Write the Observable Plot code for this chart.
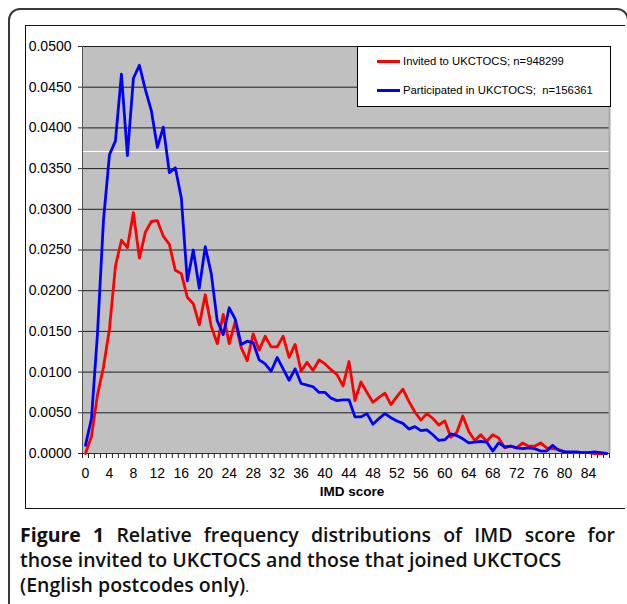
<!DOCTYPE html>
<html>
<head>
<meta charset="utf-8">
<script src="https://cdn.jsdelivr.net/npm/d3@7"></script>
<script src="https://cdn.jsdelivr.net/npm/@observablehq/plot@0.6"></script>
<style>
  html, body { margin: 0; padding: 0; background: #fff; }
  body { width: 627px; height: 604px; overflow: hidden; position: relative; }
  #outer { position: absolute; left: 8px; top: 8px; width: 621px; height: 640px;
           border: 2px solid #3a3a3a; border-radius: 12px; box-sizing: border-box; }
  #inner { position: absolute; left: 25px; top: 25px; width: 600px; height: 484px;
           border: 1.5px solid #111; border-right: none; box-sizing: border-box; }
  #chart { position: absolute; left: 0; top: 0; }
  #legend { position: absolute; left: 357px; top: 46px; width: 254px; height: 61px;
            border: 1px solid #000; background: #fff; box-sizing: border-box;
            font-family: "Liberation Sans", Arial, sans-serif; font-size: 11.3px; color: #000; }
  .lg { position: absolute; left: 19px; height: 0; width: 23px; border-top: 3px solid; }
  .lt { position: absolute; left: 45px; line-height: 14px; white-space: pre; }
  #caption { position: absolute; left: 20px; top: 522px; width: 640px;
             font-family: "Open Sans", "Noto Sans", sans-serif; font-size: 19.5px;
             line-height: 25px; color: #111; white-space: nowrap; }
  #caption .l1 { display: inline-block; }
  #caption b { font-weight: 700; }
  #caption .t { font-weight: 600; }
  #caption .n { font-weight: 400; font-size: 14px; }
</style>
</head>
<body>
<div id="outer"></div>
<div id="inner"></div>
<div id="chart"></div>
<div id="legend"></div>
<div id="caption">
  <div><span class="l1" id="line1"><b>Figure 1</b> <span class="t">Relative frequency distributions of IMD score for</span></span></div>
  <div><span class="t">those invited to UKCTOCS and those that joined UKCTOCS</span></div>
  <div><span class="t">(English postcodes only)</span><span class="n">.</span></div>
</div>
<script>
// IMD score categories
const imdScores = [0,1,2,3,4,5,6,7,8,9,10,11,12,13,14,15,16,17,18,19,20,21,22,23,24,25,26,27,28,29,
  30,31,32,33,34,35,36,37,38,39,40,41,42,43,44,45,46,47,48,49,50,51,52,53,54,55,56,57,58,59,
  60,61,62,63,64,65,66,67,68,69,70,71,72,73,74,75,76,77,78,79,80,81,82,83,84,85,86,87];

// Invited to UKCTOCS; n=948299
const invited = [0.0000,0.0021,0.0072,0.0106,0.0153,0.0230,0.0262,0.0253,0.0296,0.0240,
  0.0272,0.0285,0.0286,0.0267,0.0257,0.0225,0.0221,0.0192,0.0184,0.0158,
  0.0195,0.0156,0.0135,0.0171,0.0135,0.0162,0.0130,0.0114,0.0147,0.0127,
  0.0144,0.0131,0.0131,0.0144,0.0118,0.0134,0.0101,0.0112,0.0102,0.0115,
  0.0110,0.0103,0.0097,0.0083,0.0113,0.0065,0.0088,0.0075,0.0063,0.0069,
  0.0074,0.0060,0.0070,0.0079,0.0064,0.0051,0.0041,0.0049,0.0043,0.0035,
  0.0040,0.0020,0.0026,0.0046,0.0027,0.0016,0.0023,0.0015,0.0023,0.0019,
  0.0007,0.0009,0.0007,0.0013,0.0009,0.0009,0.0013,0.0007,0.0006,0.0005,
  0.0002,0.0001,0.0001,0.0001,0.0001,0.0000,0.0000,0.0000];

// Participated in UKCTOCS; n=156361
const participated = [0.0010,0.0043,0.0147,0.0286,0.0367,0.0384,0.0466,0.0366,0.0461,0.0477,
  0.0447,0.0421,0.0376,0.0401,0.0345,0.0351,0.0314,0.0212,0.0250,0.0203,
  0.0254,0.0221,0.0163,0.0146,0.0179,0.0165,0.0134,0.0138,0.0136,0.0115,
  0.0110,0.0101,0.0118,0.0104,0.0090,0.0104,0.0086,0.0084,0.0082,0.0075,
  0.0075,0.0068,0.0065,0.0066,0.0066,0.0045,0.0045,0.0049,0.0036,0.0043,
  0.0049,0.0044,0.0040,0.0037,0.0030,0.0033,0.0028,0.0029,0.0023,0.0016,
  0.0017,0.0024,0.0022,0.0018,0.0013,0.0014,0.0015,0.0014,0.0003,0.0013,
  0.0008,0.0009,0.0007,0.0006,0.0007,0.0006,0.0003,0.0003,0.0010,0.0004,
  0.0002,0.0002,0.0002,0.0001,0.0001,0.0002,0.0001,0.0000];

const seriesNames = ["Invited to UKCTOCS; n=948299", "Participated in UKCTOCS;  n=156361"];
const seriesColors = ["#ff0000", "#0000ff"];

const yTicks = [0,0.005,0.010,0.015,0.020,0.025,0.030,0.035,0.040,0.045,0.050];
const xTickLabels = [0,4,8,12,16,20,24,28,32,36,40,44,48,52,56,60,64,68,72,76,80,84];
const whiteLine = [0.0371];

const invitedData = imdScores.map((s, i) => ({score: s, value: invited[i]}));
const participatedData = imdScores.map((s, i) => ({score: s, value: participated[i]}));
const boundaries = imdScores.map(s => s - 0.5).concat([imdScores[imdScores.length - 1] + 0.5]);
const xDomain = [boundaries[0], boundaries[boundaries.length - 1]];

const chart = Plot.plot({
  width: 627,
  height: 520,
  marginLeft: 82,
  marginRight: 18,
  marginTop: 46,
  marginBottom: 67,
  style: {fontFamily: "'Liberation Sans', Arial, sans-serif", fontSize: "14px", color: "#000", background: "transparent", overflow: "visible"},
  x: {domain: xDomain, axis: null},
  y: {domain: [0, 0.05], axis: null},
  marks: [
    Plot.frame({fill: "#c0c0c0", stroke: null}),
    Plot.ruleY(yTicks.filter(v => v > 0), {stroke: "#1e1e1e", strokeWidth: 1}),
    Plot.ruleY(whiteLine, {stroke: "#ffffff", strokeWidth: 1}),
    Plot.ruleX([xDomain[1]], {stroke: "#a8a8a8", strokeWidth: 2}),
    Plot.ruleX([xDomain[0]], {stroke: "#555", strokeWidth: 1}),
    Plot.ruleY([0], {stroke: "#333", strokeWidth: 1.2}),
    Plot.axisY({ticks: yTicks, tickFormat: d3.format(".4f"), tickSize: 4, tickPadding: 7, label: null, stroke: "#333"}),
    Plot.axisX({ticks: boundaries, tickFormat: () => "", tickSize: 5, label: null, stroke: "#222"}),
    Plot.axisX({ticks: xTickLabels, tickSize: 0, tickPadding: 15, label: null}),
    Plot.text(["IMD score"], {text: d => d, frameAnchor: "bottom", dx: 6, dy: 42, fontWeight: "bold", fontSize: 13.5}),
    Plot.line(invitedData, {x: "score", y: "value", stroke: seriesColors[0], strokeWidth: 2.8}),
    Plot.line(participatedData, {x: "score", y: "value", stroke: seriesColors[1], strokeWidth: 2.8})
  ]
});
document.getElementById("chart").appendChild(chart);

// legend
const legend = document.getElementById("legend");
seriesNames.forEach((name, i) => {
  const top = i === 0 ? 14 : 43;
  const sw = document.createElement("div");
  sw.className = "lg";
  sw.style.top = (top - 1.5) + "px";
  sw.style.borderColor = seriesColors[i];
  legend.appendChild(sw);
  const t = document.createElement("div");
  t.className = "lt";
  t.style.top = (top - 7) + "px";
  t.textContent = name;
  legend.appendChild(t);
});

// justify first caption line to the full caption width
function justifyLine() {
  const line = document.getElementById("line1");
  line.style.wordSpacing = "0px";
  const w = line.getBoundingClientRect().width;
  const spaces = (line.textContent.trim().match(/\s+/g) || []).length;
  const target = 595;
  if (spaces > 0) line.style.wordSpacing = ((target - w) / spaces) + "px";
}
justifyLine();
if (document.fonts && document.fonts.ready) document.fonts.ready.then(justifyLine);
</script>
</body>
</html>
